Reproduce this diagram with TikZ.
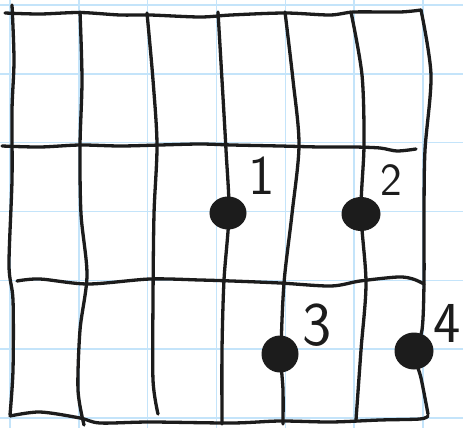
\documentclass[tikz,border=0pt]{standalone}
\usetikzlibrary{shapes.geometric}
\definecolor{gridblue}{RGB}{196,228,250}
\definecolor{ink}{RGB}{28,28,28}
\begin{document}
\begin{tikzpicture}[x=1pt,y=-1pt,
  penline/.style={draw=ink,line width=3.3pt,line cap=round,line join=round},
  paper/.style={draw=gridblue,line width=1.6pt},
  dot/.style={ellipse,fill=ink,draw=ink,line width=1pt,inner sep=0pt},
  num/.style={inner sep=0pt,text=ink,font=\sffamily}]
\useasboundingbox (0,0) rectangle (463,428);
\fill[white] (0,0) rectangle (463,428);
% graph paper
\foreach \k in {0,...,6}{
  \draw[paper] ({10+68.83*\k},0) -- ({10+68.83*\k},428);
  \draw[paper] (0,{5+68.83*\k}) -- (463,{5+68.83*\k});
}
% horizontal pen lines
\draw[penline] plot[smooth] coordinates {(5,13) (40,14) (80,12.5) (120,15) (150,15) (200,17) (231,15) (285,13) (330,15) (354,12) (400,12) (421,10)};
\draw[penline] plot[smooth] coordinates {(2,146) (40,147) (80,145) (120,146) (160,145) (200,144) (232,145) (280,146) (320,147) (354,147) (380,148) (397,151) (416,149)};
\draw[penline] plot[smooth] coordinates {(17,281) (40,279) (88,284) (150,279) (200,280) (232,281) (280,283) (331,286) (360,281) (398,277) (413,279) (424,284)};
\draw[penline] plot[smooth] coordinates {(10,416) (40,412) (80,418) (100,423) (150,422) (232,423) (280,421) (331,422) (380,420) (420,419) (428,416)};
% vertical pen lines
\draw[penline] plot[smooth] coordinates {(12,5) (14,60) (12,110) (12,180) (9,265) (13,300) (13,370) (10,415)};
\draw[penline] plot[smooth] coordinates {(80,12) (82,80) (80,146) (81,214) (87,275) (80,330) (78,390) (84,425)};
\draw[penline] plot[smooth] coordinates {(147,13) (153,80) (157,145) (154,214) (153,300) (153,380) (158,414)};
\draw[penline] plot[smooth] coordinates {(218,12) (222,80) (226,150) (229,213) (224,280) (222,350) (222,424)};
\draw[penline] plot[smooth] coordinates {(285,12) (293,80) (299,145) (292,214) (284,283) (281,354) (283,390) (283,424)};
\draw[penline] plot[smooth] coordinates {(351,12) (362,75) (364,145) (361,212) (366,283) (361,350) (356,420)};
\draw[penline] plot[smooth] coordinates {(421,10) (431,75) (425,150) (424,214) (424,283) (422,330) (414,352) (421,378) (428,414)};
% finger dots
\node[dot,minimum width=36pt,minimum height=32pt] (d1) at (228,213) {};
\node[dot,minimum width=38pt,minimum height=33pt] (d2) at (361,214) {};
\node[dot,minimum width=36pt,minimum height=36pt] (d3) at (280,354) {};
\node[dot,minimum width=38pt,minimum height=36pt] (d4) at (414,351) {};
% labels
\node[num,font=\sffamily\fontsize{56}{56}\selectfont] (l1) at (262,176) {1};
\node[num,font=\sffamily\fontsize{46}{46}\selectfont] (l2) at (391,180) {2};
\node[num,font=\sffamily\fontsize{62}{62}\selectfont] (l3) at (317,325) {3};
\node[num,font=\sffamily\fontsize{58}{58}\selectfont] (l4) at (447,323) {4};
\end{tikzpicture}
\end{document}
